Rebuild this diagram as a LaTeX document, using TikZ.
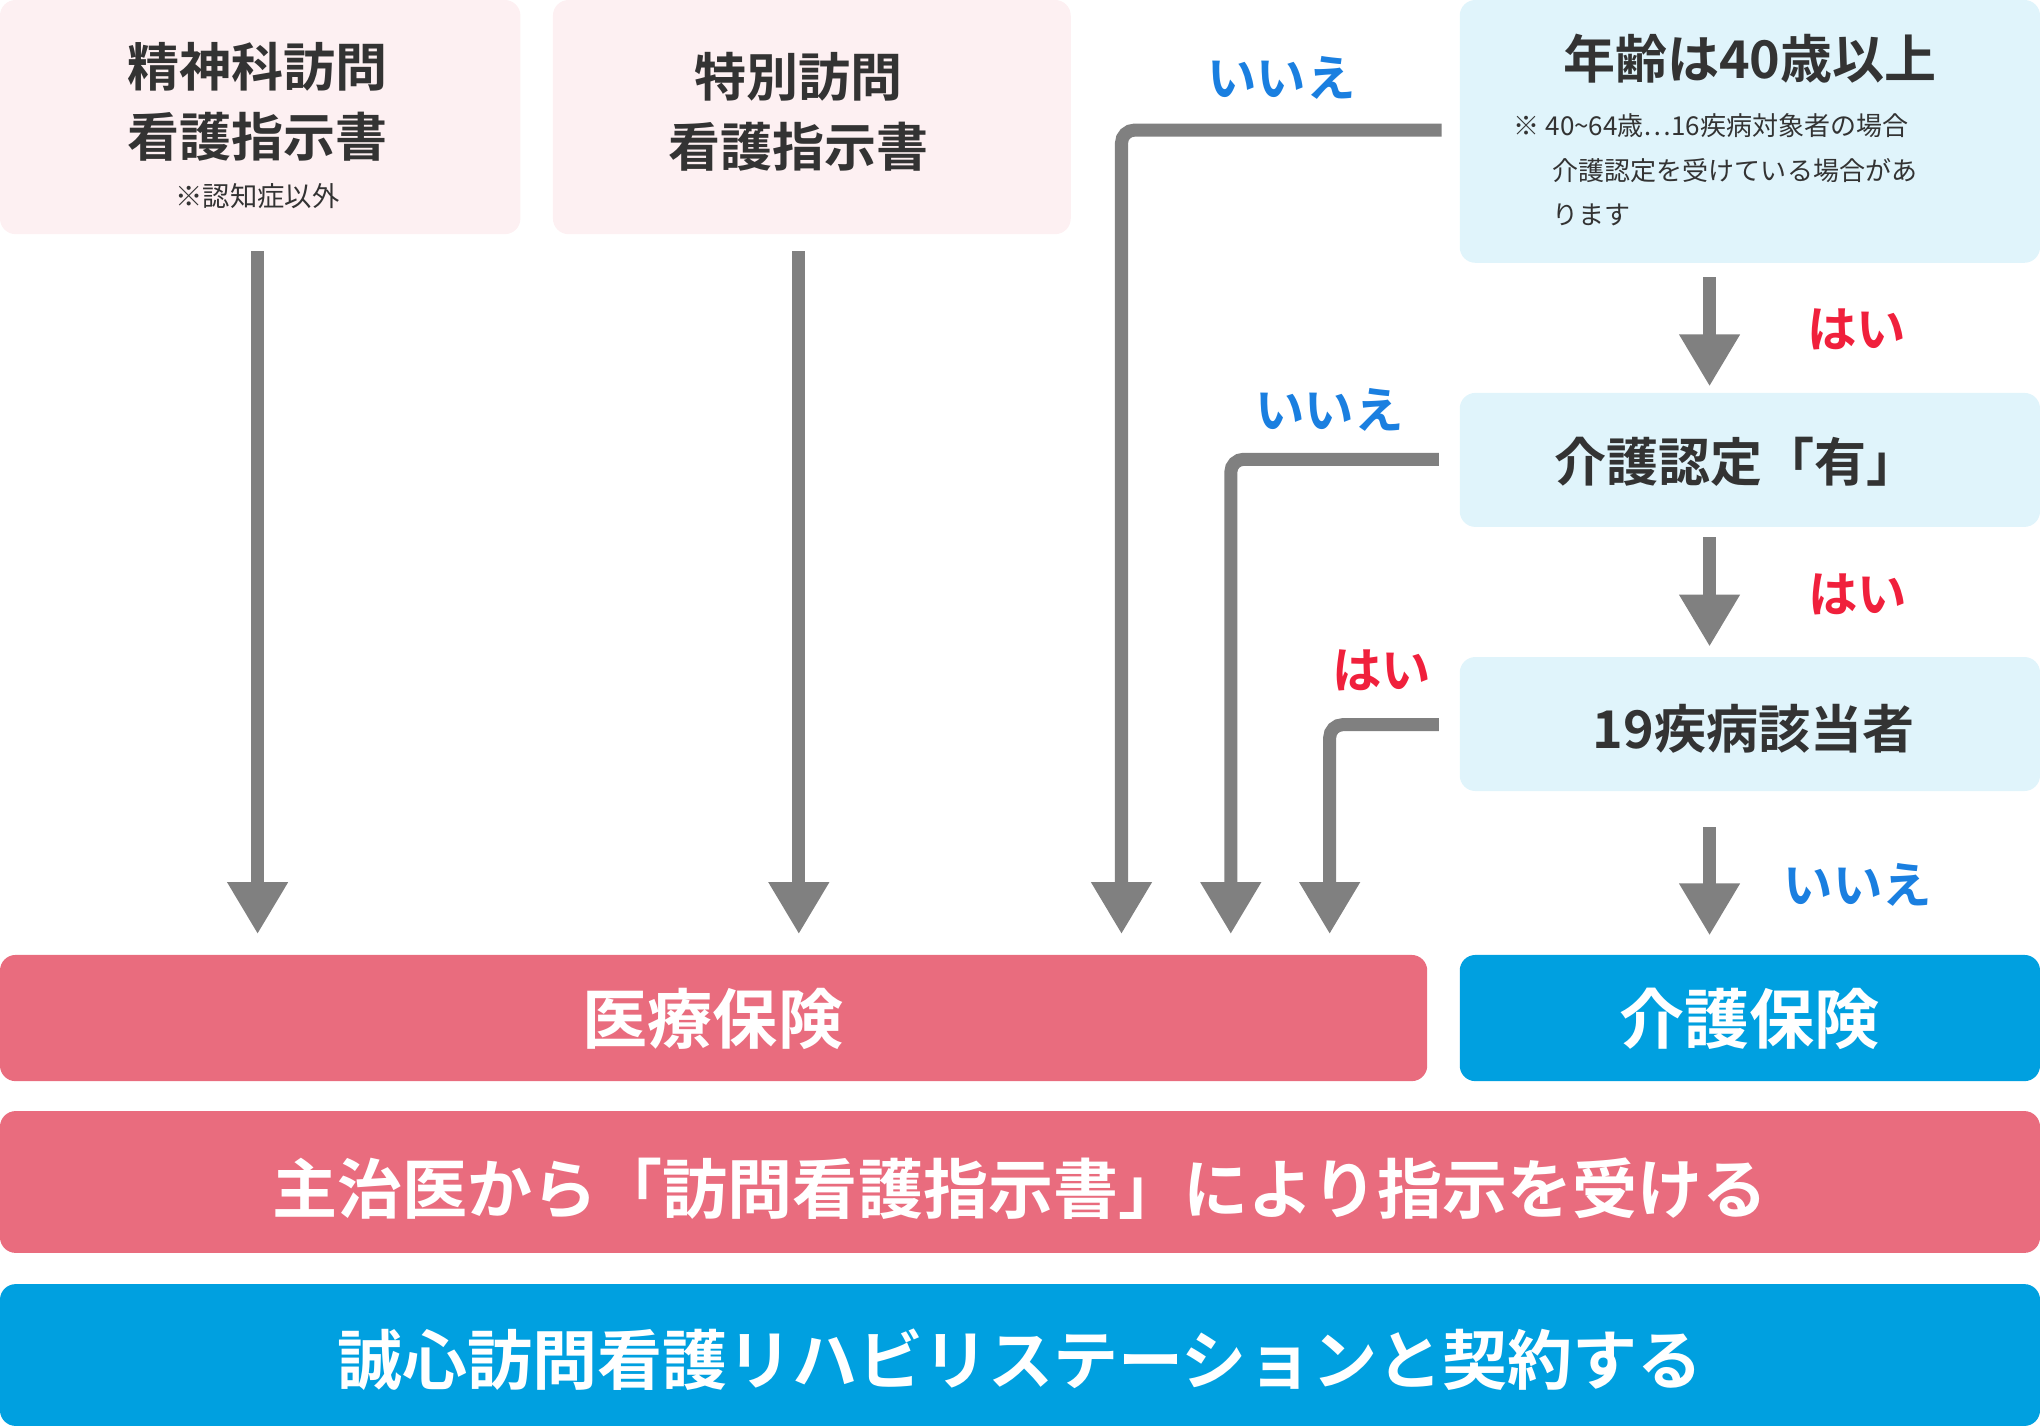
\documentclass[tikz,border=0pt]{standalone}
\usepackage{fontspec}
\setmainfont{Noto Sans CJK JP}[BoldFont={Noto Sans CJK JP Bold}]
\usetikzlibrary{arrows.meta}
\definecolor{pinkbg}{HTML}{FDF0F2}
\definecolor{bluebg}{HTML}{E0F4FB}
\definecolor{redbox}{HTML}{E96C7E}
\definecolor{bluebox}{HTML}{00A0E0}
\definecolor{arr}{HTML}{808080}
\definecolor{noc}{HTML}{1A7FE0}
\definecolor{yesc}{HTML}{F0203C}
\definecolor{txt}{HTML}{333333}
\begin{document}
\begin{tikzpicture}[x=1pt,y=-1pt,
  box/.style={rounded corners=12pt},
  ttl/.style={text=txt,font=\bfseries\fontsize{40}{54}\selectfont,align=center},
  big/.style={text=white,font=\bfseries\fontsize{50}{60}\selectfont},
  lbl/.style={font=\bfseries\fontsize{38}{44}\selectfont},
  ar/.style={draw=arr,line width=10pt,rounded corners=10pt,-{Triangle[width=44pt,length=40pt]}}]
\useasboundingbox (0,0) rectangle (1568,1097);
\fill[box,pinkbg] (0,0) rectangle (400,180);
\fill[box,pinkbg] (425,0) rectangle (823,180);
\fill[box,bluebg] (1122,0) rectangle (1568,202);
\fill[box,bluebg] (1122,302) rectangle (1568,405);
\fill[box,bluebg] (1122,505) rectangle (1568,608);
\fill[box,redbox] (0,734) rectangle (1097,831);
\fill[box,bluebox] (1122,734) rectangle (1568,831);
\fill[box,redbox] (0,854) rectangle (1568,963);
\fill[box,bluebox] (0,987) rectangle (1568,1096);
\node[ttl] (a) at (198,78) {精神科訪問\\看護指示書};
\node[text=txt,font=\fontsize{21}{24}\selectfont] (a2) at (198,151) {※認知症以外};
\node[ttl] (b) at (614,86) {特別訪問\\看護指示書};
\node[ttl] (c) at (1345,45) {年齢は40歳以上};
\node[text=txt,font=\fontsize{20}{34}\selectfont,align=left,anchor=north west] (c2) at (1160,84) {※ 40\textasciitilde 64歳…16疾病対象者の場合\\\hspace{1.5em}介護認定を受けている場合があ\\\hspace{1.5em}ります};
\node[ttl] (d) at (1335,355) {介護認定「有」};
\node[ttl] (e) at (1348,560) {19疾病該当者};
\node[big] (f) at (548,783) {医療保険};
\node[big] (g) at (1345,783) {介護保険};
\node[big] (h) at (784,914) {主治医から「訪問看護指示書」により指示を受ける};
\node[big] (k) at (784,1045) {誠心訪問看護リハビリステーションと契約する};
\coordinate (p1) at (1108,100); \coordinate (q1) at (862,718);
\coordinate (p2) at (1106,353); \coordinate (q2) at (946,718);
\coordinate (p3) at (1106,557); \coordinate (q3) at (1022,718);
\draw[ar] (198,193) -- (198,718);
\draw[ar] (614,193) -- (614,718);
\draw[ar] (p1) -| (q1);
\draw[ar] (p2) -| (q2);
\draw[ar] (p3) -| (q3);
\draw[ar] (1314,213) -- (1314,297);
\draw[ar] (1314,413) -- (1314,497);
\draw[ar] (1314,636) -- (1314,719);
\node[lbl,text=noc] (n1) at (985,60) {いいえ};
\node[lbl,text=noc] (n2) at (1022,315) {いいえ};
\node[lbl,text=yesc] (y3) at (1062,515) {はい};
\node[lbl,text=yesc] (y1) at (1427,253) {はい};
\node[lbl,text=yesc] (y2) at (1428,457) {はい};
\node[lbl,text=noc] (n3) at (1428,680) {いいえ};
\end{tikzpicture}
\end{document}
